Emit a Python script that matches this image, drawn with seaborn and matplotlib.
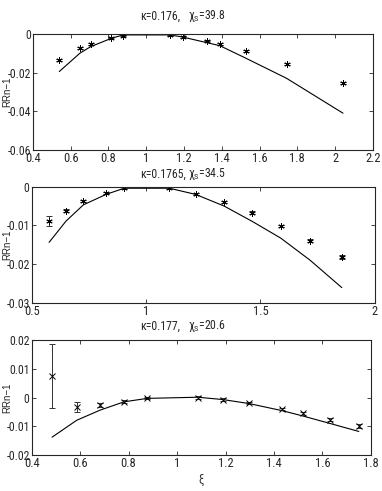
import numpy as np
import matplotlib
matplotlib.use("Agg")
import matplotlib.pyplot as plt
from matplotlib import font_manager
import seaborn as sns

# Panel 1: kappa=0.176
x1 = [0.540, 0.649, 0.706, 0.815, 0.878, 1.125, 1.193, 1.320, 1.390, 1.528, 1.743, 2.042]
y1 = [-0.0134, -0.0072, -0.0049, -0.0017, -0.0007, -0.0005, -0.0014, -0.0033, -0.0050, -0.0086, -0.0152, -0.0252]
e1 = [0.0005, 0.0004, 0.0004, 0.0003, 0.0003, 0.0003, 0.0003, 0.0004, 0.0004, 0.0005, 0.0005, 0.0006]
fit1 = [-0.0193, -0.0098, -0.0064, -0.0021, -0.0003, -0.0003, -0.0014, -0.0043, -0.0059, -0.0124, -0.0228, -0.0409]

# Panel 2: kappa=0.1765
x2 = [0.576, 0.650, 0.726, 0.825, 0.904, 1.102, 1.217, 1.341, 1.465, 1.589, 1.717, 1.856]
y2 = [-0.0089, -0.0062, -0.0037, -0.0017, -0.0004, -0.0004, -0.0019, -0.0040, -0.0067, -0.0102, -0.0140, -0.0182]
e2 = [0.0012, 0.0004, 0.0003, 0.0002, 0.0002, 0.0002, 0.0002, 0.0002, 0.0003, 0.0003, 0.0004, 0.0005]
fit2 = [-0.0144, -0.0089, -0.0047, -0.0020, -0.0004, -0.0004, -0.0020, -0.0050, -0.0090, -0.0133, -0.0190, -0.0261]

# Panel 3: kappa=0.177
x3 = [0.484, 0.586, 0.682, 0.781, 0.877, 1.085, 1.188, 1.297, 1.435, 1.518, 1.630, 1.750]
y3 = [0.0075, -0.0032, -0.0026, -0.0014, -0.0002, 0.0000, -0.0007, -0.0020, -0.0040, -0.0055, -0.0077, -0.0100]
e3 = [0.0111, 0.0018, 0.0008, 0.0005, 0.0004, 0.0004, 0.0004, 0.0004, 0.0005, 0.0005, 0.0006, 0.0007]
fit3 = [-0.0138, -0.0079, -0.0044, -0.0015, -0.0003, 0.0001, -0.0007, -0.0021, -0.0046, -0.0064, -0.0090, -0.0118]

kappas = ["0.176", "0.1765", "0.177"]
chis = ["39.8", "34.5", "20.6"]

sns.set_style("ticks")

# pick a condensed face if one is installed (the original uses a narrow Helvetica)
names = {f.name for f in font_manager.fontManager.ttflist}
narrow = next((n for n in ["Liberation Sans Narrow", "Roboto Condensed", "Open Sans Condensed",
                           "Noto Sans Condensed", "DejaVu Sans Condensed"] if n in names),
              "Liberation Sans")
plt.rcParams['font.family'] = [narrow, 'DejaVu Sans']
plt.rcParams['mathtext.fontset'] = 'custom'
plt.rcParams['mathtext.rm'] = narrow
plt.rcParams['mathtext.it'] = narrow
plt.rcParams['mathtext.sf'] = narrow

fig = plt.figure(figsize=(3.82, 4.91), dpi=100)
axes = [
    fig.add_axes([0.086, 0.6945, 0.890, 0.2356]),
    fig.add_axes([0.083, 0.3835, 0.898, 0.2363]),
    fig.add_axes([0.083, 0.0733, 0.888, 0.2342]),
]
panels = [(x1, y1, e1, fit1), (x2, y2, e2, fit2), (x3, y3, e3, fit3)]
xlims = [(0.4, 2.2), (0.5, 2.0), (0.4, 1.8)]
ylims = [(-0.06, 0.0), (-0.03, 0.0), (-0.02, 0.02)]
xticks = [np.arange(0.4, 2.21, 0.2), [0.5, 1, 1.5, 2], np.arange(0.4, 1.81, 0.2)]
yticks = [[-0.06, -0.04, -0.02, 0], [-0.03, -0.02, -0.01, 0], [-0.02, -0.01, 0, 0.01, 0.02]]
markers = [(6, 2, 0), (6, 2, 0), "x"]
title_y = [1 - 16 / 491, 1 - 174 / 491, 1 - 326 / 491]

for i, ax in enumerate(axes):
    x, y, e, fit = panels[i]
    sns.lineplot(x=x, y=fit, ax=ax, color="black", linewidth=0.8, sort=False)
    ax.errorbar(x, y, yerr=e, fmt="none", ecolor="#333333", elinewidth=0.7,
                capsize=2.5, capthick=0.7)
    ax.plot(x, y, linestyle="none", marker=markers[i], markersize=4.5,
            color="black", markeredgewidth=0.7)
    ax.set_xlim(*xlims[i])
    ax.set_ylim(*ylims[i])
    ax.set_xticks(xticks[i])
    ax.set_yticks(yticks[i])
    ax.set_xticklabels([f"{v:g}" for v in xticks[i]])
    ax.set_yticklabels([f"{v:g}" for v in yticks[i]])
    ax.tick_params(direction="in", top=True, right=True, labelsize=9,
                   length=3, width=0.6, pad=1.5)
    ax.tick_params(axis="y", labelsize=8.5)
    for s in ax.spines.values():
        s.set_linewidth(0.8)
    # y label placed by hand, like the original's left margin
    pos = ax.get_position()
    fig.text(7 / 382, pos.y0 + pos.height / 2, "RRn\u22121", rotation=90,
             ha="center", va="center", fontsize=7, family="Liberation Sans")
    fig.text(140 / 382, title_y[i], "\u03ba=" + kappas[i] + ",",
             ha="left", va="center", fontsize=8.5)
    fig.text(188 / 382, title_y[i], "$\\chi_S$=" + chis[i],
             ha="left", va="center", fontsize=8.5)

axes[2].set_xlabel("\u03be", fontsize=8.5, labelpad=2)

fig.savefig("out.png", dpi=100)
